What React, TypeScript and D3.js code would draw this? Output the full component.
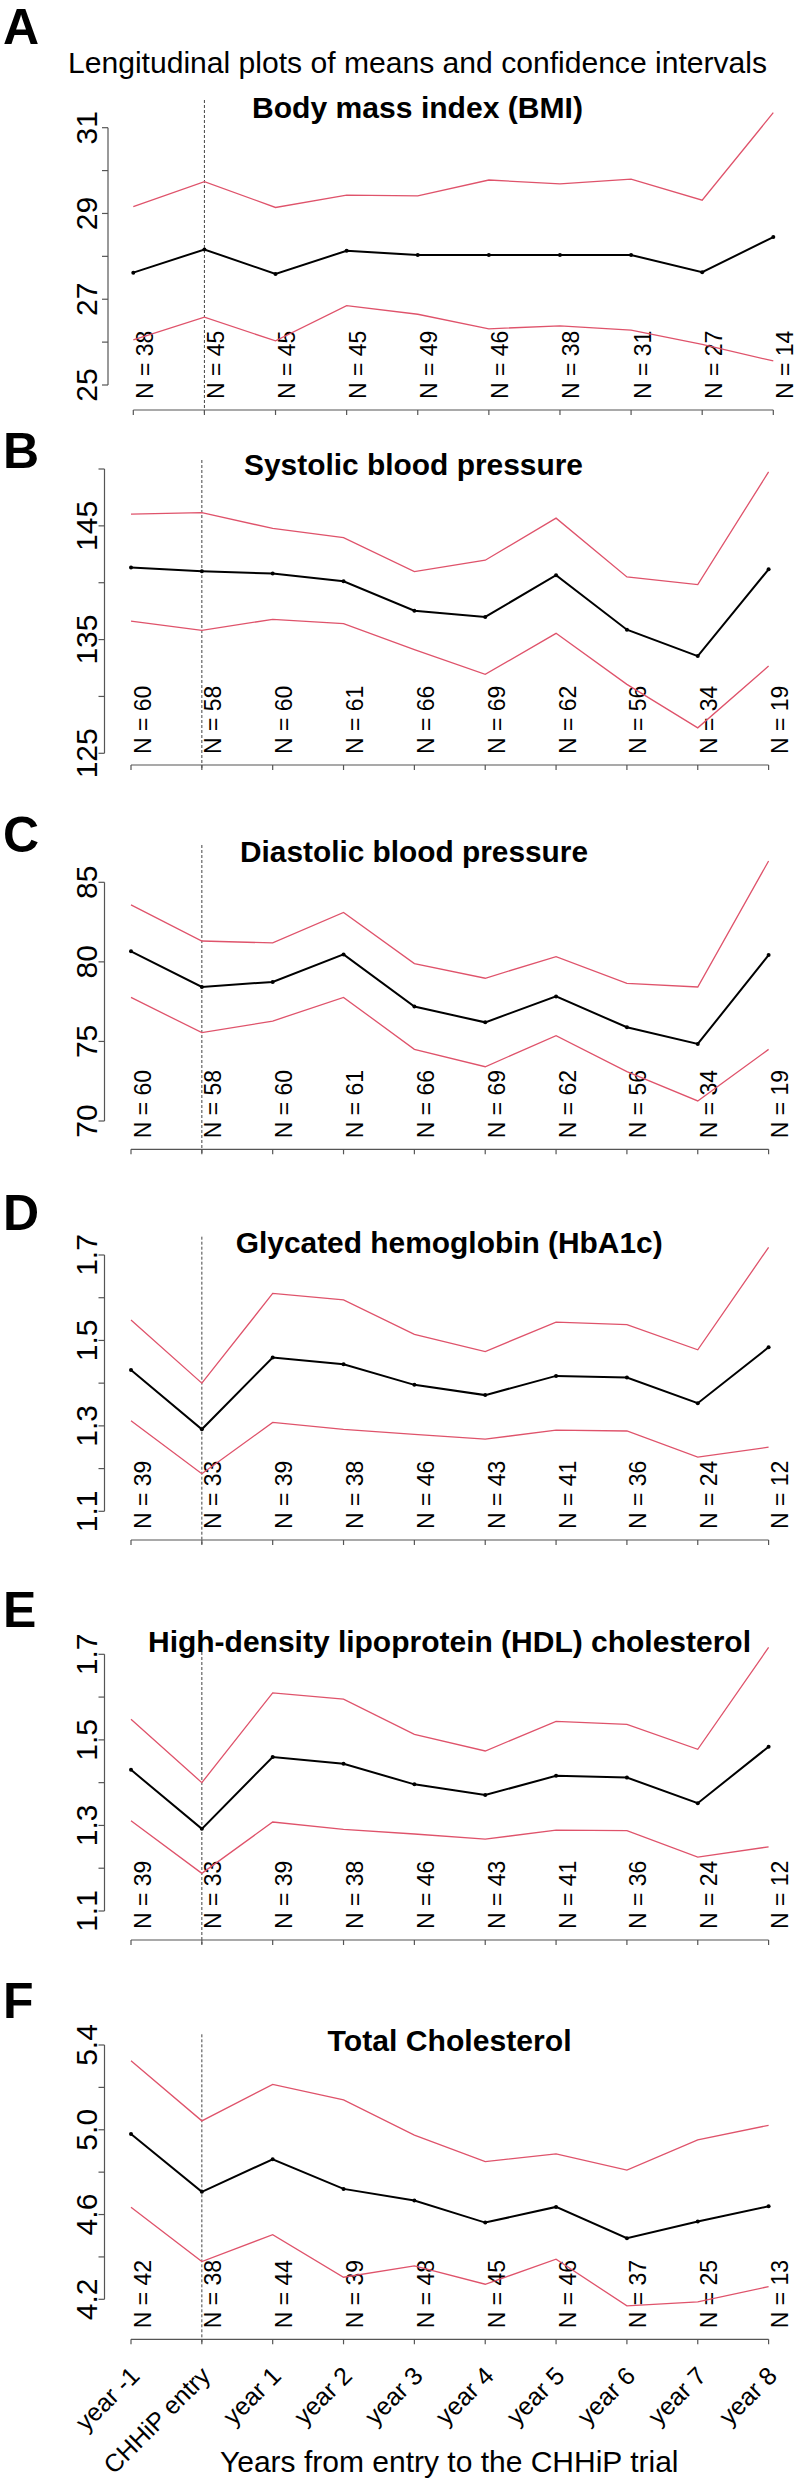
import React from "react";
import * as d3 from "d3";

const timepoints = ["year -1", "CHHiP entry", "year 1", "year 2", "year 3", "year 4", "year 5", "year 6", "year 7", "year 8"];

const bmiUpper = [29.16, 29.74, 29.14, 29.43, 29.41, 29.78, 29.69, 29.8, 29.31, 31.35];
const bmiMean = [27.62, 28.16, 27.59, 28.13, 28.03, 28.03, 28.03, 28.03, 27.63, 28.45];
const bmiLower = [26.05, 26.58, 26.03, 26.85, 26.65, 26.31, 26.38, 26.28, 25.95, 25.56];
const bmiN = [38, 45, 45, 45, 49, 46, 38, 31, 27, 14];
const bmiTicks = [25, 26, 27, 28, 29, 30, 31];
const bmiLabels = [25, 27, 29, 31];

const sbpUpper = [146.03, 146.17, 144.77, 143.97, 140.98, 141.98, 145.68, 140.51, 139.83, 149.75];
const sbpMean = [141.33, 141.01, 140.8, 140.13, 137.54, 136.99, 140.66, 135.87, 133.55, 141.18];
const sbpLower = [136.63, 135.81, 136.78, 136.4, 134.11, 131.94, 135.55, 131.06, 127.24, 132.67];
const sbpN = [60, 58, 60, 61, 66, 69, 62, 56, 34, 19];
const sbpTicks = [125, 130, 135, 140, 145, 150];
const sbpLabels = [125, 135, 145];

const dbpUpper = [83.58, 81.31, 81.19, 83.11, 79.89, 78.97, 80.33, 78.65, 78.42, 86.34];
const dbpMean = [80.66, 78.42, 78.74, 80.47, 77.19, 76.2, 77.83, 75.89, 74.84, 80.43];
const dbpLower = [77.77, 75.55, 76.28, 77.77, 74.5, 73.41, 75.36, 73.1, 71.26, 74.5];
const dbpN = [60, 58, 60, 61, 66, 69, 62, 56, 34, 19];
const dbpTicks = [70, 75, 80, 85];
const dbpLabels = [70, 75, 80, 85];

const hbaUpper = [1.548, 1.4, 1.61, 1.595, 1.514, 1.474, 1.543, 1.537, 1.478, 1.718];
const hbaMean = [1.431, 1.292, 1.46, 1.444, 1.396, 1.372, 1.417, 1.413, 1.353, 1.484];
const hbaLower = [1.312, 1.188, 1.308, 1.292, 1.28, 1.269, 1.29, 1.288, 1.227, 1.25];
const hbaN = [39, 33, 39, 38, 46, 43, 41, 36, 24, 12];
const hbaTicks = [1.1, 1.2, 1.3, 1.4, 1.5, 1.6, 1.7];
const hbaLabels = [1.1, 1.3, 1.5, 1.7];

const hdlUpper = [1.548, 1.4, 1.61, 1.595, 1.513, 1.474, 1.543, 1.536, 1.478, 1.716];
const hdlMean = [1.43, 1.292, 1.46, 1.444, 1.396, 1.371, 1.416, 1.412, 1.352, 1.484];
const hdlLower = [1.311, 1.188, 1.308, 1.291, 1.28, 1.268, 1.289, 1.288, 1.226, 1.25];
const hdlN = [39, 33, 39, 38, 46, 43, 41, 36, 24, 12];
const hdlTicks = [1.1, 1.2, 1.3, 1.4, 1.5, 1.6, 1.7];
const hdlLabels = [1.1, 1.3, 1.5, 1.7];

const tcUpper = [5.326, 5.042, 5.214, 5.141, 4.975, 4.85, 4.886, 4.81, 4.952, 5.021];
const tcMean = [4.98, 4.707, 4.861, 4.721, 4.666, 4.562, 4.636, 4.488, 4.567, 4.639];
const tcLower = [4.634, 4.378, 4.505, 4.304, 4.358, 4.271, 4.389, 4.169, 4.188, 4.26];
const tcN = [42, 38, 44, 39, 48, 45, 46, 37, 25, 13];
const tcTicks = [4.2, 4.4, 4.6, 4.8, 5.0, 5.2, 5.4];
const tcLabels = [4.2, 4.6, 5.0, 5.4];

const FONT = "'Liberation Sans', Arial, Helvetica, sans-serif";
const RED = "#DF536B";
const AXIS = "#555";

const panels = [
  { letter: "A", letterY: 44, title: "Body mass index (BMI)", titleX: 252, titleW: 331, titleY: 118,
    upper: bmiUpper, mean: bmiMean, lower: bmiLower, n: bmiN, ticks: bmiTicks, labels: bmiLabels, fmt: "d",
    pyLo: 385, pyHi: 127.7, dashTop: 100, axisY: 410, xFirst: 133.3, xLast: 773.3, yAxisX: 108 },
  { letter: "B", letterY: 468, title: "Systolic blood pressure", titleX: 244, titleW: 339, titleY: 475,
    upper: sbpUpper, mean: sbpMean, lower: sbpLower, n: sbpN, ticks: sbpTicks, labels: sbpLabels, fmt: "d",
    pyLo: 753.3, pyHi: 469, dashTop: 460, axisY: 765, xFirst: 131, xLast: 768.6, yAxisX: 104.5 },
  { letter: "C", letterY: 852, title: "Diastolic blood pressure", titleX: 240, titleW: 348, titleY: 861.7,
    upper: dbpUpper, mean: dbpMean, lower: dbpLower, n: dbpN, ticks: dbpTicks, labels: dbpLabels, fmt: "d",
    pyLo: 1121, pyHi: 882.3, dashTop: 845, axisY: 1149.3, xFirst: 131, xLast: 768.6, yAxisX: 104.5 },
  { letter: "D", letterY: 1230, title: "Glycated hemoglobin (HbA1c)", titleX: 235.7, titleW: 427, titleY: 1253,
    upper: hbaUpper, mean: hbaMean, lower: hbaLower, n: hbaN, ticks: hbaTicks, labels: hbaLabels, fmt: ".1f",
    pyLo: 1511.3, pyHi: 1255, dashTop: 1236.7, axisY: 1540, xFirst: 131, xLast: 768.6, yAxisX: 104.5 },
  { letter: "E", letterY: 1627, title: "High-density lipoprotein (HDL) cholesterol", titleX: 148, titleW: 603, titleY: 1651.7,
    upper: hdlUpper, mean: hdlMean, lower: hdlLower, n: hdlN, ticks: hdlTicks, labels: hdlLabels, fmt: ".1f",
    pyLo: 1911, pyHi: 1654.3, dashTop: 1652, axisY: 1940, xFirst: 131, xLast: 768.6, yAxisX: 104.5 },
  { letter: "F", letterY: 2018, title: "Total Cholesterol", titleX: 327.6, titleW: 244, titleY: 2050.7,
    upper: tcUpper, mean: tcMean, lower: tcLower, n: tcN, ticks: tcTicks, labels: tcLabels, fmt: ".1f",
    pyLo: 2299.3, pyHi: 2045, dashTop: 2034.3, axisY: 2339.3, xFirst: 131, xLast: 768.6, yAxisX: 104.5 },
];

function Panel({ p, showXLabels }: { p: any; showXLabels: boolean }) {
  const x = d3.scalePoint<string>().domain(timepoints).range([p.xFirst, p.xLast]);
  const lo = p.ticks[0];
  const hi = p.ticks[p.ticks.length - 1];
  const y = d3.scaleLinear().domain([lo, hi]).range([p.pyLo, p.pyHi]);
  const line = d3
    .line<number>()
    .x((_, i) => x(timepoints[i]) as number)
    .y((d) => y(d));
  const fmt = d3.format(p.fmt);
  const entryX = x("CHHiP entry") as number;
  return (
    <g>
      <text x={3} y={p.letterY} fontFamily={FONT} fontWeight="bold" fontSize={50} fill="#000">
        {p.letter}
      </text>
      <text x={p.titleX} y={p.titleY} fontFamily={FONT} fontWeight="bold" fontSize={29} fill="#000"
        textLength={p.titleW} lengthAdjust="spacingAndGlyphs">
        {p.title}
      </text>
      <line x1={entryX} x2={entryX} y1={p.dashTop} y2={p.axisY + 4} stroke="#444" strokeWidth={1} strokeDasharray="3,2" />
      <line x1={p.yAxisX} x2={p.yAxisX} y1={y(lo)} y2={y(hi)} stroke={AXIS} strokeWidth={1.2} />
      {p.ticks.map((t: number) => (
        <line key={"yt" + t} x1={p.yAxisX - 6} x2={p.yAxisX} y1={y(t)} y2={y(t)} stroke={AXIS} strokeWidth={1.2} />
      ))}
      {p.labels.map((t: number) => (
        <text key={"yl" + t} transform={`translate(97,${y(t)}) rotate(-90)`} textAnchor="middle"
          fontFamily={FONT} fontSize={30} fill="#000">
          {fmt(t)}
        </text>
      ))}
      <line x1={p.xFirst} x2={p.xLast} y1={p.axisY} y2={p.axisY} stroke={AXIS} strokeWidth={1.2} />
      {timepoints.map((t) => (
        <line key={"xt" + t} x1={x(t)} x2={x(t)} y1={p.axisY} y2={p.axisY + 5} stroke={AXIS} strokeWidth={1.2} />
      ))}
      {timepoints.map((t, i) => (
        <text key={"n" + t} transform={`translate(${(x(t) as number) + 19.5},${p.axisY - 11}) rotate(-90)`}
          fontFamily={FONT} fontSize={23} fill="#000">
          {`N = ${p.n[i]}`}
        </text>
      ))}
      <path d={line(p.upper) as string} fill="none" stroke={RED} strokeWidth={1.3} />
      <path d={line(p.lower) as string} fill="none" stroke={RED} strokeWidth={1.3} />
      <path d={line(p.mean) as string} fill="none" stroke="#000" strokeWidth={2} />
      {p.mean.map((v: number, i: number) => (
        <circle key={"pt" + i} cx={x(timepoints[i])} cy={y(v)} r={2} fill="#000" />
      ))}
      {showXLabels &&
        timepoints.map((t) => (
          <text key={"xl" + t} transform={`translate(${(x(t) as number) + 10},${p.axisY + 38}) rotate(-45)`}
            textAnchor="end" fontFamily={FONT} fontSize={25} fill="#000">
            {t}
          </text>
        ))}
    </g>
  );
}

export default function App() {
  return (
    <div style={{ position: "absolute", left: 0, top: 0, background: "#fff" }}>
      <svg width={798} height={2481} viewBox="0 0 798 2481" style={{ display: "block" }}>
        <rect x={0} y={0} width={798} height={2481} fill="#fff" />
        <text x={68} y={72.7} fontFamily={FONT} fontSize={30} fill="#000" textLength={699} lengthAdjust="spacingAndGlyphs">
          Lengitudinal plots of means and confidence intervals
        </text>
        {panels.map((p, i) => (
          <Panel key={p.letter} p={p} showXLabels={i === panels.length - 1} />
        ))}
        <text x={220} y={2471.7} fontFamily={FONT} fontSize={30} fill="#000" textLength={458.5} lengthAdjust="spacingAndGlyphs">
          Years from entry to the CHHiP trial
        </text>
      </svg>
    </div>
  );
}
